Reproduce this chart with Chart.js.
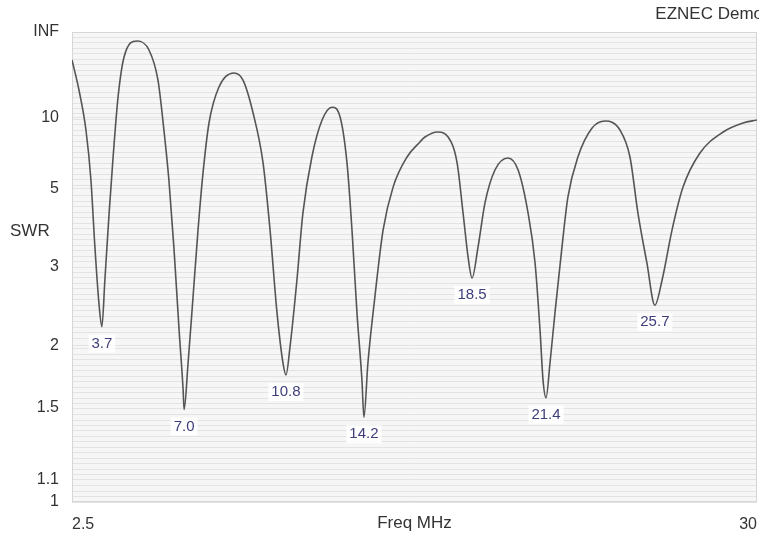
<!DOCTYPE html>
<html>
<head>
<meta charset="utf-8">
<script src="https://cdn.jsdelivr.net/npm/chart.js@4.4.1/dist/chart.umd.min.js"></script>
<style>
  html, body { margin: 0; padding: 0; background: #fff; }
  canvas { display: block; }
</style>
</head>
<body>
<canvas id="swr" width="759" height="534"></canvas>
<script>
// SWR sweep
const freqMHz = [2.50, 2.78, 3.06, 3.26, 3.42, 3.58, 3.70, 3.82, 3.99, 4.15, 4.35, 4.59, 5.11,
    5.59, 5.95, 6.19, 6.39, 6.59, 6.80, 6.96, 7.00, 7.16, 7.36, 7.56, 7.76, 8.00, 8.40, 9.00,
    9.36, 9.77, 10.17, 10.45, 10.73, 10.97, 11.09, 11.25, 11.53, 11.77, 12.13, 12.54, 12.94,
    13.26, 13.54, 13.74, 13.94, 14.14, 14.22, 14.38, 14.66, 14.99, 15.39, 15.95, 16.47, 16.67, 17.19,
    17.60, 17.96, 18.20, 18.40, 18.56, 18.80, 19.08, 19.48, 20.00,
    20.41, 20.81, 21.09, 21.29, 21.41, 21.53, 21.69, 21.89, 22.17, 22.41, 22.81, 23.38, 23.90,
    24.50, 24.90, 25.22, 25.58, 25.90, 26.19, 26.59, 27.03, 27.71, 28.64, 29.44, 30.00];

const swr = [32.6, 15.2, 8.59, 5.35, 3.37, 2.47, 2.19, 2.79, 4.19, 6.52, 13.5, 36.6, 104,
    51.2, 18.6, 8.59, 5.35, 3.37, 2.15, 1.63, 1.49, 1.84, 2.55, 3.75, 5.67, 9.33, 16.1, 21.9,
    18.6, 10.6, 6.18, 3.75, 2.35, 1.84, 1.74, 1.98, 2.79, 4.19, 6.52, 9.68, 11.5,
    10.1, 6.18, 3.75, 2.35, 1.70, 1.44, 1.84, 2.55, 3.75, 5.06, 6.52, 7.55, 7.95, 8.40,
    7.95, 6.18, 4.19, 3.18, 2.82, 3.37, 4.50, 5.81, 6.46,
    5.81, 4.19, 3.07, 2.15, 1.70, 1.57, 1.84, 2.35, 3.37, 4.70, 6.52, 8.79, 9.56,
    8.59, 6.52, 4.19, 3.07, 2.44, 2.79, 3.75, 5.06, 6.77, 8.40, 9.33, 9.68];

const dipLabels = ['3.7', '7.0', '10.8', '14.2', '18.5', '21.4', '25.7'];
const swrTicks = [1, 1.1, 1.5, 2, 3, 5, 10, Infinity];
const swrTickLabels = ['1', '1.1', '1.5', '2', '3', '5', '10', 'INF'];
const freqTicks = [2.5, 30];

// EZNEC draws SWR on a reflection-coefficient scale
function gamma(s) {
    return s === Infinity ? 1 : (s - 1) / (s + 1);
}

const majorG = swrTicks.map(gamma);
const gridG = [];
for (let i = 0; i <= 86; i++) {
    const g = i / 86;
    if (!majorG.some(m => Math.abs(m - g) < 0.004)) gridG.push(g);
}
const yTickValues = gridG.concat(majorG).sort((a, b) => a - b);

const points = freqMHz.map((f, i) => ({ x: f, y: gamma(swr[i]) }));

const fondPlugin = {
    id: 'fond',
    beforeDraw(chart) {
        const { ctx, chartArea: a } = chart;
        ctx.save();
        ctx.fillStyle = '#f6f6f6';
        ctx.fillRect(a.left, a.top, a.right - a.left, a.bottom - a.top);
        ctx.restore();
    },
    beforeDatasetsDraw(chart) {
        const { ctx, chartArea: a } = chart;
        ctx.save();
        ctx.strokeStyle = '#d6d6d6';
        ctx.lineWidth = 1;
        ctx.strokeRect(a.left + 0.5, a.top + 0.5, a.right - a.left - 1, a.bottom - a.top - 1);
        ctx.restore();
    }
};

const textesPlugin = {
    id: 'textes',
    afterDatasetsDraw(chart) {
        const { ctx } = chart;
        const meta = chart.getDatasetMeta(0);
        ctx.save();
        ctx.font = '15px "Liberation Sans", Arial, sans-serif';
        ctx.textAlign = 'center';
        ctx.textBaseline = 'middle';
        let n = 0;
        for (let i = 1; i < swr.length - 1; i++) {
            if (swr[i] < swr[i - 1] && swr[i] < swr[i + 1] && n < dipLabels.length) {
                const pt = meta.data[i];
                const txt = dipLabels[n++];
                const w = ctx.measureText(txt).width;
                ctx.fillStyle = 'rgba(255,255,255,0.85)';
                ctx.fillRect(pt.x - w / 2 - 3, pt.y + 8, w + 6, 18);
                ctx.fillStyle = '#3e3e7c';
                ctx.fillText(txt, pt.x, pt.y + 17);
            }
        }
        ctx.restore();
    },
    afterDraw(chart) {
        const { ctx, chartArea: a } = chart;
        ctx.save();
        ctx.fillStyle = '#333';
        ctx.textBaseline = 'middle';
        ctx.font = '17px "Liberation Sans", Arial, sans-serif';
        ctx.textAlign = 'right';
        ctx.fillText('EZNEC Demo', 763, 14);
        ctx.textAlign = 'center';
        ctx.fillText('Freq MHz', (a.left + a.right) / 2, a.bottom + 21);
        ctx.textAlign = 'left';
        ctx.fillText('SWR', 10, a.top + (a.bottom - a.top) * 0.425);
        ctx.restore();
    }
};

new Chart(document.getElementById('swr'), {
    type: 'line',
    data: {
        datasets: [{
            data: points,
            borderColor: '#555',
            borderWidth: 1.6,
            pointRadius: 0,
            fill: false,
            cubicInterpolationMode: 'monotone'
        }]
    },
    options: {
        responsive: false,
        animation: false,
        layout: { padding: { top: 32, right: 2, left: 0, bottom: 0 } },
        plugins: {
            legend: { display: false },
            tooltip: { enabled: false }
        },
        scales: {
            x: {
                type: 'linear',
                min: 2.5,
                max: 30,
                afterBuildTicks: s => { s.ticks = freqTicks.map(v => ({ value: v })); },
                afterFit: s => { s.height = 32; s.paddingLeft = 0; s.paddingRight = 0; },
                ticks: {
                    align: 'inner',
                    autoSkip: false,
                    maxRotation: 0,
                    padding: 5,
                    color: '#333',
                    font: { family: '"Liberation Sans", Arial, sans-serif', size: 16 },
                    callback: v => String(v)
                },
                grid: { display: false },
                border: { display: false }
            },
            y: {
                type: 'linear',
                min: 0,
                max: 1,
                afterBuildTicks: s => { s.ticks = yTickValues.map(v => ({ value: v })); },
                afterFit: s => { s.width = 72; },
                ticks: {
                    autoSkip: false,
                    padding: 13,
                    color: '#333',
                    font: { family: '"Liberation Sans", Arial, sans-serif', size: 16 },
                    callback: v => {
                        const k = majorG.findIndex(g => Math.abs(g - v) < 1e-9);
                        return k >= 0 ? swrTickLabels[k] : '';
                    }
                },
                grid: { color: '#e3e3e3', lineWidth: 1, drawTicks: false },
                border: { display: false }
            }
        }
    },
    plugins: [fondPlugin, textesPlugin]
});
</script>
</body>
</html>
